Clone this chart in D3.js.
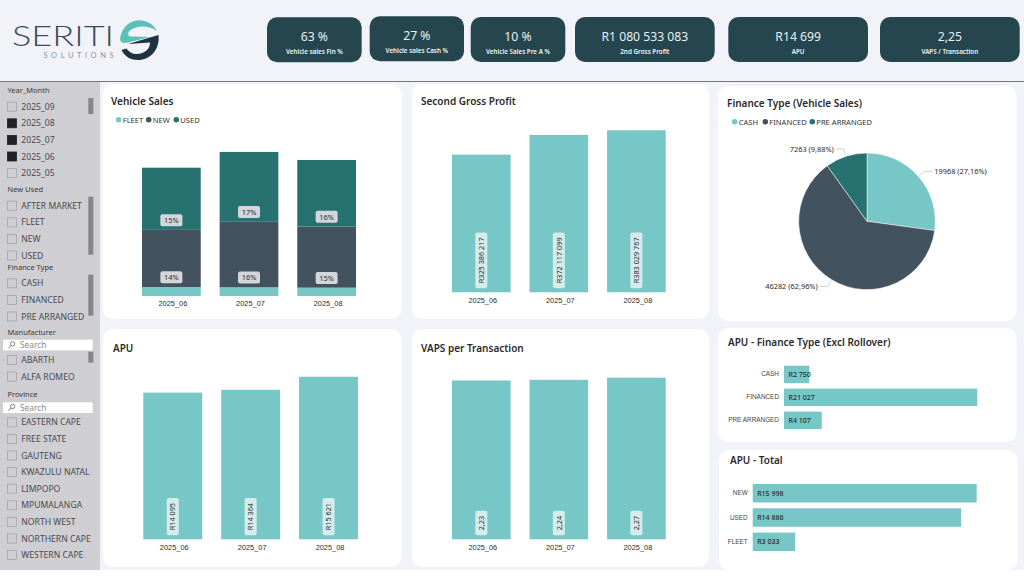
<!DOCTYPE html>
<html>
<head>
<title>Seriti Solutions dashboard</title>
<meta charset="utf-8">
<script src="https://cdn.jsdelivr.net/npm/d3@7"></script>
<style>
  html, body {margin:0; padding:0; background:#fff; overflow:hidden;}
  svg {display:block; font-family:"Noto Sans", "Open Sans", sans-serif;}
  .domain {display:none;}
</style>
</head>
<body>
<script>
// ---- data ----
var months = ["2025_06", "2025_07", "2025_08"];
var fleetSales = [1620, 1570, 1500];
var newSales = [10280, 11780, 11000];
var usedSales = [11190, 12580, 11980];
var newPct = ["14%", "16%", "15%"];
var usedPct = ["15%", "17%", "16%"];
var salesTypes = ["FLEET", "NEW", "USED"];

var grossProfit = [325386217, 372117099, 383029767];
var apuMonthly = [14095, 14364, 15621];
var vapsMonthly = [2.23, 2.24, 2.27];

var financeTypes = ["CASH", "FINANCED", "PRE ARRANGED"];
var financeCounts = [19968, 46282, 7263];
var financeShares = ["27,16%", "62,96%", "9,88%"];

var apuFinanceValues = [2750, 21027, 4107];
var apuTotalTypes = ["NEW", "USED", "FLEET"];
var apuTotalValues = [15998, 14886, 3033];

var kpiValues = ["63 %", "27 %", "10 %", "R1 080 533 083", "R14 699", "2,25"];
var kpiLabels = ["Vehicle sales Fin %", "Vehicle sales Cash %", "Vehicle Sales Pre A %", "2nd Gross Profit", "APU", "VAPS / Transaction"];

var yearMonths = ["2025_09", "2025_08", "2025_07", "2025_06", "2025_05"];
var yearMonthsOn = ["2025_08", "2025_07", "2025_06"];
var newUsedItems = ["AFTER MARKET", "FLEET", "NEW", "USED"];
var manufacturers = ["ABARTH", "ALFA ROMEO"];
var provinces = ["EASTERN CAPE", "FREE STATE", "GAUTENG", "KWAZULU NATAL", "LIMPOPO", "MPUMALANGA", "NORTH WEST", "NORTHERN CAPE", "WESTERN CAPE"];

// ---- colours ----
var teal = "#76c7c5", slate = "#42525f", green = "#277270", navy = "#26464f";
var textDark = "#2b2b2b";
var seriesColor = d3.scaleOrdinal().domain([0, 1, 2]).range([teal, slate, green]);

var width = 1024, height = 576;
var svg = d3.select("body").append("svg").attr("width", width).attr("height", height);

// number format with a space as thousands separator
var spaced = d3.formatLocale({decimal: ",", thousands: " ", grouping: [3], currency: ["R", ""]}).format("$,.0f");
var comma2 = d3.formatLocale({decimal: ",", thousands: " ", grouping: [3], currency: ["", ""]}).format(".2f");

svg.append("rect").attr("width", width).attr("height", 570).attr("fill", "#f1f3f9");
svg.append("rect").attr("y", 81).attr("width", width).attr("height", 1).attr("fill", "#77777b");
svg.append("rect").attr("y", 82).attr("width", 100).attr("height", 488).attr("fill", "#cfced3");

// ---- logo ----
var logo = svg.append("g");
logo.append("text").attr("x", 12).attr("y", 46.4).attr("font-family", "Lato").attr("font-weight", 300)
  .attr("font-size", 27).attr("fill", "#3b4a55").attr("textLength", 102).attr("lengthAdjust", "spacingAndGlyphs").text("SERITI");
logo.append("text").attr("x", 43.5).attr("y", 57.6).attr("font-family", "Lato")
  .attr("font-size", 7.5).attr("fill", "#8d9296").attr("textLength", 70).attr("lengthAdjust", "spacing").text("SOLUTIONS");
logo.append("path").attr("fill", "#5cc0b8")
  .attr("d", "M157 31 C149 16 126 16 120.5 36 C119 42 122 44 128 42.5 L150 37 L131 36.5 C127.5 36 127.5 33 129.5 31 C136 25 149 25 157 31 Z");
logo.append("path").attr("fill", "#1f3341")
  .attr("d", "M158.5 35 L128 44 L150 42.5 C150 50 143 54 137 54 C132 54 129 52 126.5 48.5 L121.5 50 C125 57 131 60 138 60 C150 60 160 50 158.5 35 Z");

// ---- kpi cards ----
var kpiX = [267, 369.7, 470.7, 575, 728.3, 880];
var kpiW = [94.7, 94.3, 94.6, 139.7, 139.7, 139.7];
var kpiY = [17.3, 16.3, 17, 17, 17, 17];
var kpi = svg.selectAll(".kpi").data(kpiValues).enter().append("g").attr("class", "kpi")
  .attr("transform", function (d, i) { return "translate(" + kpiX[i] + "," + kpiY[i] + ")"; });
kpi.append("rect").attr("width", function (d, i) { return kpiW[i]; }).attr("height", 45).attr("rx", 10).attr("fill", navy);
kpi.append("text").attr("x", function (d, i) { return kpiW[i] / 2; }).attr("y", 23.5).attr("text-anchor", "middle")
  .attr("font-size", 12.2).attr("fill", "#e8eff1").text(function (d) { return d; });
kpi.append("text").attr("x", function (d, i) { return kpiW[i] / 2; }).attr("y", 36.5).attr("text-anchor", "middle")
  .attr("font-size", 6.3).attr("font-weight", 600).attr("fill", "#f2f5f6").text(function (d, i) { return kpiLabels[i]; });

// ---- slicers ----
function slicerTitle(txt, y) {
  svg.append("text").attr("x", 7.5).attr("y", y + 3).attr("font-size", 7.5).attr("fill", "#3a3a3a").text(txt);
}
function slicerRows(items, y0, on) {
  items.forEach(function (name, i) {
    var y = y0 + i * 16.6;
    svg.append("rect").attr("x", 7.5).attr("y", y - 4.5).attr("width", 9).attr("height", 9)
      .attr("fill", on && on.indexOf(name) >= 0 ? "#222225" : "none")
      .attr("stroke", on && on.indexOf(name) >= 0 ? "#222225" : "#a3a3a8").attr("stroke-width", 0.8);
    svg.append("text").attr("x", 21.3).attr("y", y + 3.1).attr("font-size", 8.6).attr("fill", "#4a4a4e").text(name);
  });
}
function scrollThumb(y0, y1) {
  svg.append("rect").attr("x", 88.3).attr("y", y0).attr("width", 5).attr("height", y1 - y0).attr("fill", "#87878a");
}
function searchBox(y) {
  svg.append("rect").attr("x", 3).attr("y", y).attr("width", 89.7).attr("height", 10.7).attr("fill", "#fff");
  svg.append("circle").attr("cx", 12.6).attr("cy", y + 4.2).attr("r", 2.2).attr("fill", "none").attr("stroke", "#555").attr("stroke-width", 0.7);
  svg.append("line").attr("x1", 11).attr("y1", y + 5.9).attr("x2", 8.6).attr("y2", y + 8.3).attr("stroke", "#555").attr("stroke-width", 0.8);
  svg.append("text").attr("x", 20).attr("y", y + 8.2).attr("font-size", 8.4).attr("fill", "#8a8a8e").text("Search");
}
slicerTitle("Year_Month", 90);
slicerRows(yearMonths, 106.7, yearMonthsOn);
scrollThumb(98, 114);
slicerTitle("New Used", 189);
slicerRows(newUsedItems, 205.7);
scrollThumb(196.7, 254.7);
slicerTitle("Finance Type", 267);
slicerRows(financeTypes, 283.3);
scrollThumb(274.7, 315.7);
slicerTitle("Manufacturer", 332);
searchBox(339.7);
slicerRows(manufacturers, 360);
scrollThumb(351.7, 362.7);
slicerTitle("Province", 394);
searchBox(402.3);
slicerRows(provinces, 422.3);

// ---- panels ----
function card(x, y, w, h) {
  svg.append("rect").attr("x", x).attr("y", y).attr("width", w).attr("height", h).attr("rx", 10).attr("fill", "#fff");
}
function title(txt, x, y) {
  svg.append("text").attr("x", x).attr("y", y).attr("font-size", 10).attr("font-weight", 600).attr("fill", "#2a2a2a").text(txt);
}
function legend(items, dotX, y) {
  items.forEach(function (name, i) {
    svg.append("circle").attr("cx", dotX[i]).attr("cy", y).attr("r", 2.8).attr("fill", seriesColor(i));
    svg.append("text").attr("x", dotX[i] + 4).attr("y", y + 2.8).attr("font-size", 7.6).attr("fill", "#333").text(name);
  });
}
function monthAxis(x, y) {
  svg.append("g").attr("transform", "translate(0," + y + ")")
    .call(d3.axisBottom(x).tickSize(0).tickPadding(5))
    .call(function (g) {
      g.selectAll("text").attr("font-family", "inherit").attr("font-size", 7.4).attr("font-weight", 500)
        .attr("fill", textDark).attr("dx", 1.5);
    });
}
card(103, 84, 298.5, 235);
card(412, 84, 297, 235);
card(718, 86, 298.5, 235);
card(103, 329, 298.5, 237.7);
card(412, 329, 297, 237.7);
card(718, 328, 298.5, 114);
card(719, 450, 298.5, 120);

title("Vehicle Sales", 111, 105);
title("Second Gross Profit", 421, 105);
title("Finance Type (Vehicle Sales)", 727, 107);
title("APU", 113, 352);
title("VAPS per Transaction", 421, 352);
title("APU - Finance Type (Excl Rollover)", 728, 346);
title("APU - Total", 730, 464);

// ---- stacked columns ----
legend(salesTypes, [118.7, 148.7, 176.3], 119.7);
var xSales = d3.scaleBand().domain(months).range([142, 356]).paddingInner(0.2436);
var ySales = d3.scaleLinear().domain([0, 30000]).range([296, 129.3]);
var stackRows = months.map(function (m, i) {
  return {month: m, FLEET: fleetSales[i], NEW: newSales[i], USED: usedSales[i]};
});
var layers = d3.stack().keys(salesTypes)(stackRows);
layers.forEach(function (layer, k) {
  svg.append("g").selectAll("rect").data(layer).enter().append("rect")
    .attr("x", function (d) { return xSales(d.data.month); })
    .attr("width", xSales.bandwidth())
    .attr("y", function (d) { return ySales(d[1]); })
    .attr("height", function (d) { return ySales(d[0]) - ySales(d[1]); })
    .attr("fill", seriesColor(k));
});
[[1, newPct], [2, usedPct]].forEach(function (pair) {
  var g = svg.append("g").selectAll("g").data(layers[pair[0]]).enter().append("g")
    .attr("transform", function (d) {
      return "translate(" + (xSales(d.data.month) + xSales.bandwidth() / 2) + "," + (ySales(d[0]) - 9.7) + ")";
    });
  g.append("rect").attr("x", -11).attr("y", -6).attr("width", 22).attr("height", 12).attr("rx", 2).attr("fill", "#d3d6da");
  g.append("text").attr("y", 2.7).attr("text-anchor", "middle").attr("font-size", 7.4).attr("fill", textDark)
    .text(function (d, i) { return pair[1][i]; });
});
monthAxis(xSales, 296);

// ---- plain column charts with a vertical value pill at the foot of each bar ----
function columns(values, range, yTop, yBase, fmt, pillGap) {
  var x = d3.scaleBand().domain(months).range(range).paddingInner(0.2436);
  var y = d3.scaleLinear().domain([0, yTop.max]).range([yBase, yBase - yTop.px]);
  svg.append("g").selectAll("rect").data(values).enter().append("rect")
    .attr("x", function (d, i) { return x(months[i]); })
    .attr("width", x.bandwidth())
    .attr("y", function (d) { return y(d); })
    .attr("height", function (d) { return y(0) - y(d); })
    .attr("fill", teal);
  var g = svg.append("g").selectAll("g").data(values).enter().append("g")
    .attr("transform", function (d, i) {
      return "translate(" + (x(months[i]) + x.bandwidth() / 2) + "," + (yBase - pillGap) + ") rotate(-90)";
    });
  var rects = g.append("rect").attr("y", -6).attr("height", 12).attr("rx", 2).attr("fill", "#d5ecec");
  var labels = g.append("text").attr("x", 5).attr("y", 2.7).attr("font-size", 7.3).attr("fill", textDark).text(fmt);
  rects.attr("width", function (d, i) { return labels.nodes()[i].getComputedTextLength() + 10; });
  monthAxis(x, yBase);
}
var randFmt = function (d) { return spaced(d); };
columns(grossProfit, [452, 665.7], {max: 400000000, px: 169.2}, 292.3, randFmt, 4);
columns(apuMonthly, [143.3, 358], {max: 16000, px: 166.5}, 539.3, randFmt, 4);
columns(vapsMonthly, [452, 665.7], {max: 2.5, px: 178}, 539.3, function (d) { return comma2(d); }, 4);

// ---- pie ----
legend(financeTypes, [734.7, 765.3, 812.3], 121.7);
var pieX = 867, pieY = 221.3, pieR = 68.3;
var pie = d3.pie().sort(null)(financeCounts);
var arc = d3.arc().innerRadius(0).outerRadius(pieR);
var startArc = d3.arc().innerRadius(pieR + 1).outerRadius(pieR + 1);
var elbowArc = d3.arc().innerRadius(pieR + 7.7).outerRadius(pieR + 7.7);
var pieG = svg.append("g").attr("transform", "translate(" + pieX + "," + pieY + ")");
pieG.selectAll("path").data(pie).enter().append("path")
  .attr("d", arc)
  .attr("fill", function (d, i) { return seriesColor(i); })
  .attr("stroke", "#fff").attr("stroke-width", 0.5);
pie.forEach(function (d, i) {
  var a = startArc.centroid(d), b = elbowArc.centroid(d);
  var side = (d.startAngle + d.endAngle) / 2 < Math.PI ? 1 : -1;
  pieG.append("polyline").attr("fill", "none").attr("stroke", "#bdbdbd").attr("stroke-width", 0.7)
    .attr("points", [a, b, [b[0] + side * 8, b[1]]].join(" "));
  pieG.append("text").attr("x", b[0] + side * 10).attr("y", b[1] + 2.7)
    .attr("text-anchor", side > 0 ? "start" : "end").attr("font-size", 7.4).attr("fill", textDark)
    .text(financeCounts[i] + " (" + financeShares[i] + ")");
});

// ---- horizontal bars ----
function hbars(names, values, x0, pxPerUnit, yRange) {
  var y = d3.scaleBand().domain(names).range(yRange).paddingInner(0.24);
  var x = d3.scaleLinear().domain([0, 25000]).range([x0, x0 + 25000 * pxPerUnit]);
  svg.append("g").selectAll("rect").data(values).enter().append("rect")
    .attr("x", x(0))
    .attr("y", function (d, i) { return y(names[i]); })
    .attr("width", function (d) { return x(d) - x(0); })
    .attr("height", y.bandwidth())
    .attr("fill", teal);
  svg.append("g").selectAll("text").data(values).enter().append("text")
    .attr("x", x(0) + 4.5)
    .attr("y", function (d, i) { return y(names[i]) + y.bandwidth() / 2 + 2.5; })
    .attr("font-size", 7).attr("font-weight", 500).attr("fill", textDark)
    .text(function (d) { return spaced(d); });
  svg.append("g").attr("transform", "translate(" + x0 + ",0)")
    .call(d3.axisLeft(y).tickSize(0).tickPadding(5))
    .call(function (g) {
      g.selectAll("text").attr("font-family", "inherit").attr("font-size", 6.4).attr("fill", "#444");
    });
}
hbars(financeTypes, apuFinanceValues, 784, 0.00919, [365.7, 429]);
hbars(apuTotalTypes, apuTotalValues, 752.7, 0.014, [484, 551]);
</script>
</body>
</html>
